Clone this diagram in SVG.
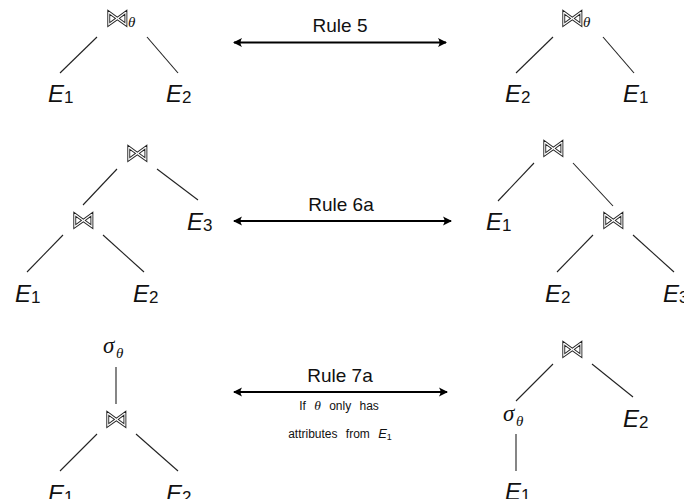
<svg xmlns="http://www.w3.org/2000/svg" width="684" height="499" viewBox="0 0 684 499">
<defs>
<style>
.e{font-family:"Liberation Sans","DejaVu Sans",sans-serif;font-style:italic;font-size:24px;fill:#111}
.sub{font-style:normal;font-size:17px}
.bt{font-family:"DejaVu Sans",sans-serif;font-size:24px;fill:#fff;stroke:#222;stroke-width:0.9;text-anchor:middle;filter:url(#gray)}
.gr{font-family:"Liberation Serif","DejaVu Serif",serif;font-style:italic;fill:#111}
.lbl{font-family:"Liberation Sans","DejaVu Sans",sans-serif;font-size:19px;fill:#111;text-anchor:middle}
.sm{font-family:"Liberation Sans","DejaVu Sans",sans-serif;font-size:12px;fill:#111;text-anchor:middle;word-spacing:5px}
.edge{stroke:#222;stroke-width:1.1;fill:none}
.arr{stroke:#000;stroke-width:1.8;fill:none;marker-start:url(#ah);marker-end:url(#ah)}
</style>
<filter id="gray" x="-20%" y="-20%" width="140%" height="140%">
<feColorMatrix type="saturate" values="0"/>
</filter>
<marker id="ah" viewBox="-10 -6 12 12" refX="0" refY="0" markerWidth="12" markerHeight="12" markerUnits="userSpaceOnUse" orient="auto-start-reverse">
<path d="M1,0 L-8,-4.5 Q-5,0 -8,4.5 Z" fill="#000"/>
</marker>
</defs>

<g id="connectors">
<line class="edge" x1="97" y1="37" x2="60" y2="73"/>
<line class="edge" x1="147" y1="37" x2="178" y2="73"/>
<line class="edge" x1="553" y1="37" x2="516" y2="73"/>
<line class="edge" x1="603" y1="37" x2="634" y2="73"/>
<line class="edge" x1="117" y1="169" x2="83" y2="205"/>
<line class="edge" x1="157" y1="169" x2="198" y2="200"/>
<line class="edge" x1="63" y1="235" x2="27" y2="272"/>
<line class="edge" x1="103" y1="235" x2="144" y2="272"/>
<line class="edge" x1="534" y1="163" x2="498" y2="201"/>
<line class="edge" x1="573" y1="163" x2="613" y2="206"/>
<line class="edge" x1="593" y1="235" x2="557" y2="272"/>
<line class="edge" x1="633" y1="235" x2="674" y2="272"/>
<line class="edge" x1="116" y1="367" x2="116" y2="404"/>
<line class="edge" x1="97" y1="434" x2="60" y2="471"/>
<line class="edge" x1="136" y1="434" x2="178" y2="471"/>
<line class="edge" x1="553" y1="364" x2="516" y2="401"/>
<line class="edge" x1="592" y1="364" x2="633" y2="397"/>
<line class="edge" x1="516" y1="434" x2="516" y2="471"/>
<line class="arr" x1="234" y1="42.5" x2="446" y2="42.5"/>
<line class="arr" x1="234" y1="221" x2="451" y2="221"/>
<line class="arr" x1="234" y1="392" x2="447" y2="392"/>
</g>

<g id="rule5">
<text class="lbl" x="340" y="32">Rule 5</text>
</g>
<g id="rule6a">
<text class="lbl" x="341" y="210.5">Rule 6a</text>
</g>
<g id="rule7a">
<text class="lbl" x="340" y="382">Rule 7a</text>
<text class="sm" x="339" y="410">If <tspan class="gr" font-size="13.5">θ</tspan> only has</text>
<text class="sm" x="340" y="438">attributes from <tspan font-style="italic" font-size="13">E</tspan><tspan font-size="9" dy="2">1</tspan></text>
</g>

<!-- Row 1 left -->
<g id="r1l-join">
<text class="bt" x="117" y="26">⋈</text>
<text class="gr" x="128" y="27" font-size="15">θ</text>
</g>
<g id="r1l-e1"><text class="e" x="48" y="102">E<tspan class="sub" dy="1">1</tspan></text></g>
<g id="r1l-e2"><text class="e" x="166" y="102">E<tspan class="sub" dy="1">2</tspan></text></g>

<!-- Row 1 right -->
<g id="r1r-join">
<text class="bt" x="572" y="26">⋈</text>
<text class="gr" x="583" y="27" font-size="15">θ</text>
</g>
<g id="r1r-e2"><text class="e" x="505" y="102">E<tspan class="sub" dy="1">2</tspan></text></g>
<g id="r1r-e1"><text class="e" x="623" y="102">E<tspan class="sub" dy="1">1</tspan></text></g>

<!-- Row 2 left -->
<g id="r2l-join-top"><text class="bt" x="137" y="161">⋈</text></g>
<g id="r2l-join-mid"><text class="bt" x="83" y="228">⋈</text></g>
<g id="r2l-e3"><text class="e" x="187" y="230">E<tspan class="sub" dy="1">3</tspan></text></g>
<g id="r2l-e1"><text class="e" x="15" y="302">E<tspan class="sub" dy="1">1</tspan></text></g>
<g id="r2l-e2"><text class="e" x="133" y="302">E<tspan class="sub" dy="1">2</tspan></text></g>

<!-- Row 2 right -->
<g id="r2r-join-top"><text class="bt" x="553" y="156">⋈</text></g>
<g id="r2r-e1"><text class="e" x="486" y="230">E<tspan class="sub" dy="1">1</tspan></text></g>
<g id="r2r-join-mid"><text class="bt" x="613" y="228">⋈</text></g>
<g id="r2r-e2"><text class="e" x="545" y="302">E<tspan class="sub" dy="1">2</tspan></text></g>
<g id="r2r-e3"><text class="e" x="663" y="302">E<tspan class="sub" dy="1">3</tspan></text></g>

<!-- Row 3 left -->
<g id="r3l-sel">
<text class="gr" x="103" y="353" font-size="23">σ</text>
<text class="gr" x="116" y="358" font-size="15">θ</text>
</g>
<g id="r3l-join"><text class="bt" x="116" y="427">⋈</text></g>
<g id="r3l-e1"><text class="e" x="48" y="502">E<tspan class="sub" dy="1">1</tspan></text></g>
<g id="r3l-e2"><text class="e" x="166" y="502">E<tspan class="sub" dy="1">2</tspan></text></g>

<!-- Row 3 right -->
<g id="r3r-join"><text class="bt" x="572" y="357">⋈</text></g>
<g id="r3r-sel">
<text class="gr" x="503" y="421" font-size="23">σ</text>
<text class="gr" x="516" y="426" font-size="15">θ</text>
</g>
<g id="r3r-e2"><text class="e" x="623" y="427">E<tspan class="sub" dy="1">2</tspan></text></g>
<g id="r3r-e1"><text class="e" x="505" y="500">E<tspan class="sub" dy="1">1</tspan></text></g>
</svg>
